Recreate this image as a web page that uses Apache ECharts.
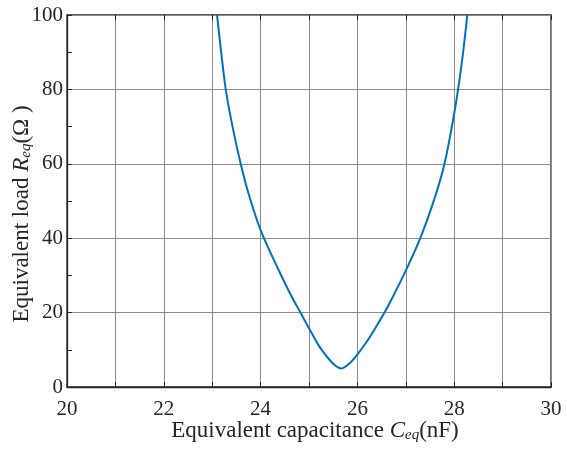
<!DOCTYPE html>
<html>
<head>
<meta charset="utf-8">
<script src="https://cdn.jsdelivr.net/npm/echarts@6/dist/echarts.min.js"></script>
<style>
  html, body { margin: 0; padding: 0; background: #fff; }
  #chart { width: 567px; height: 453px; }
</style>
</head>
<body>
<div id="chart"></div>
<script>
// capacitance (nF) and equivalent load (ohm)
const capacitance = [23.10, 23.18, 23.28, 23.42, 23.58, 23.74, 24.00, 24.36, 24.63, 24.84, 25.00, 25.22, 25.49, 25.67,
  25.84, 25.99, 26.20, 26.36, 26.56, 26.73, 26.99, 27.30, 27.59, 27.80, 27.98, 28.08, 28.18, 28.27];
const load = [100, 90.6, 80, 70, 60.5, 52.5, 42.2, 31.8, 24.6, 19.6, 15.8, 10.8, 6.4, 5.0,
  6.4, 8.6, 12.3, 15.6, 20, 24.2, 31.0, 40, 50.5, 60, 72, 80, 89.5, 100];

const xLabels = ['20', '22', '24', '26', '28', '30'];

const font = 'Liberation Serif';
const ink = '#262626';

const chart = echarts.init(document.getElementById('chart'));

const points = capacitance.map((c, i) => [c, load[i]]);

const titleRich = {
  n: { fontFamily: font, fontSize: 23, color: ink },
  i: { fontFamily: font, fontSize: 23, color: ink, fontStyle: 'italic' },
  sub: { fontFamily: font, fontSize: 15, color: ink, fontStyle: 'italic', padding: [10, 0, 0, 0] }
};

const option = {
  animation: false,
  grid: {
    left: 67,
    right: 16,
    top: 15,
    bottom: 66,
    outerBoundsMode: 'none',
    show: true,
    borderColor: ink,
    borderWidth: 1.3
  },
  xAxis: [
    {
      type: 'value',
      min: 20,
      max: 30,
      interval: 1,
      name: '{n|Equivalent capacitance }{i|C}{sub|eq}{n|(nF)}',
      nameLocation: 'middle',
      nameGap: 31,
      nameMoveOverlap: false,
      nameTextStyle: { rich: titleRich, padding: [0, 0, 0, 12] },
      axisLine: { show: true, lineStyle: { color: ink, width: 1.3 } },
      axisTick: { show: true, inside: true, length: 5, lineStyle: { color: ink } },
      axisLabel: {
        margin: 12,
        fontFamily: font,
        fontSize: 21,
        color: ink,
        formatter: v => xLabels.includes(String(v)) ? String(v) : ''
      },
      splitLine: { show: true, lineStyle: { color: '#8c8c8c', width: 1 } }
    },
    {
      type: 'value',
      position: 'top',
      min: 20,
      max: 30,
      interval: 1,
      axisLine: { show: false },
      axisTick: { show: true, inside: true, length: 5, lineStyle: { color: ink } },
      axisLabel: { show: false },
      splitLine: { show: false }
    }
  ],
  yAxis: {
    type: 'value',
    min: 0,
    max: 100,
    interval: 20,
    name: '{n|Equivalent load }{i|R}{sub|eq}{n|(Ω )}',
    nameLocation: 'middle',
    nameRotate: 90,
    nameGap: 33,
    nameMoveOverlap: false,
    nameTextStyle: { rich: titleRich, padding: [0, 26, 0, 0] },
    axisLine: { show: true, lineStyle: { color: ink, width: 1.3 } },
    axisTick: { show: true, inside: true, length: 5, lineStyle: { color: ink } },
    minorTick: { show: true, splitNumber: 2, length: 5, lineStyle: { color: ink } },
    axisLabel: { margin: 4, fontFamily: font, fontSize: 21, color: ink },
    splitLine: { show: true, lineStyle: { color: '#8c8c8c', width: 1 } }
  },
  series: [
    {
      type: 'line',
      data: points,
      smooth: 0.3,
      showSymbol: false,
      lineStyle: { color: '#0072BD', width: 2 },
      clip: true
    }
  ]
};

chart.setOption(option);
</script>
</body>
</html>
